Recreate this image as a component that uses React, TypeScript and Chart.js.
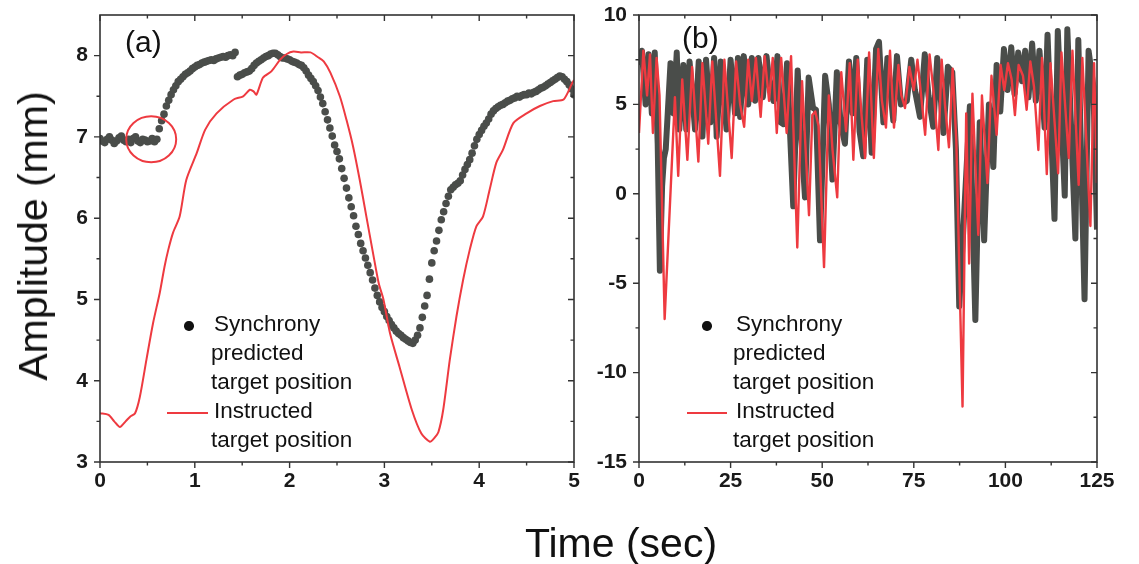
import React, { useEffect, useRef } from "react";
import { Chart, registerables } from "chart.js";

Chart.register(...registerables);

const FONT = '"Liberation Sans", Arial, Helvetica, sans-serif';
const DOT = "#4a4d4a";
const RED = "#ee3a40";
const AXIS = "#333333";

// ---------- Panel (a) ----------
const syncAStep = 0.025; // seconds between predicted samples
const syncAValues = [
  6.98, 6.95, 6.93, 6.97, 7.0, 6.96, 6.92, 6.95, 6.99, 7.01,
  6.96, 6.94, 6.97, 6.93, 6.98, 7.0, 6.95, 6.93, 6.97, 6.96,
  6.94, 6.95, 6.98, 6.94, 6.97,
  7.1, 7.2, 7.28, 7.38, 7.45, 7.52, 7.58, 7.63, 7.68, 7.71,
  7.74, 7.77, 7.79, 7.81, 7.84, 7.86, 7.88, 7.89, 7.91, 7.92,
  7.93, 7.94, 7.95, 7.94, 7.96, 7.97, 7.98, 7.99, 7.98, 8.0,
  8.01, 8.0, 8.04,
  7.74, 7.76, 7.77, 7.79, 7.8, 7.81, 7.84, 7.88, 7.91, 7.93,
  7.95, 7.97, 7.99, 8.0, 8.02, 8.03, 8.03, 8.01, 7.99, 7.97,
  7.97, 7.96, 7.95, 7.93, 7.92, 7.91, 7.89, 7.88, 7.85, 7.81,
  7.76, 7.72, 7.68, 7.63, 7.57, 7.49, 7.41, 7.31, 7.21, 7.11,
  7.01, 6.9, 6.82, 6.73, 6.61, 6.49, 6.37, 6.25, 6.14, 6.03,
  5.9, 5.8, 5.69, 5.6, 5.51, 5.42, 5.33, 5.24, 5.14, 5.05,
  4.97, 4.9, 4.85, 4.79, 4.74, 4.69, 4.65, 4.61, 4.58, 4.56,
  4.53, 4.51, 4.49, 4.47, 4.46, 4.5, 4.56, 4.65, 4.78, 4.92,
  5.05, 5.25, 5.45, 5.6, 5.72, 5.85, 5.98, 6.08, 6.18, 6.27,
  6.35, 6.38, 6.41, 6.43, 6.46, 6.53, 6.6, 6.66, 6.72, 6.8,
  6.89, 6.97, 7.03, 7.08, 7.13, 7.17, 7.22, 7.28, 7.32, 7.35,
  7.37, 7.39, 7.4, 7.42, 7.44, 7.45, 7.47, 7.48, 7.5, 7.49,
  7.51, 7.52, 7.52, 7.54, 7.53, 7.55, 7.56, 7.58, 7.6, 7.61,
  7.63, 7.65, 7.67, 7.69, 7.71, 7.73, 7.75, 7.74, 7.71, 7.68,
  7.64, 7.59, 7.52,
];

const instructedA: [number, number][] = [
  [0, 3.6], [0.09, 3.58], [0.15, 3.5], [0.21, 3.43], [0.27, 3.5], [0.32, 3.56],
  [0.37, 3.6], [0.42, 3.8], [0.49, 4.26], [0.56, 4.71], [0.63, 5.08], [0.68, 5.4],
  [0.72, 5.61], [0.77, 5.82], [0.84, 6.02], [0.91, 6.47], [1.02, 6.8], [1.11, 7.09],
  [1.23, 7.29], [1.41, 7.46], [1.51, 7.5], [1.58, 7.58], [1.62, 7.56], [1.65, 7.52],
  [1.72, 7.73], [1.81, 7.81], [1.9, 7.95], [1.97, 8.02], [2.04, 8.05], [2.12, 8.04],
  [2.22, 8.04], [2.3, 7.98], [2.36, 7.93], [2.43, 7.79], [2.53, 7.5], [2.6, 7.21],
  [2.67, 6.88], [2.74, 6.47], [2.81, 6.02], [2.88, 5.57], [2.94, 5.2], [2.99, 5.0],
  [3.06, 4.58], [3.16, 4.17], [3.29, 3.64], [3.39, 3.35], [3.48, 3.25], [3.53, 3.3],
  [3.57, 3.37], [3.62, 3.64], [3.69, 4.26], [3.76, 4.79], [3.83, 5.24], [3.9, 5.61],
  [3.97, 5.9], [4.04, 6.02], [4.11, 6.35], [4.18, 6.68], [4.25, 6.84], [4.36, 7.17],
  [4.5, 7.29], [4.64, 7.38], [4.78, 7.44], [4.89, 7.46], [4.98, 7.66], [5.0, 7.7],
];

const circleA = { x: 0.54, y: 6.97 }; // highlighted region in panel (a)

const ticksAX = [0, 1, 2, 3, 4, 5];
const minorAX = [0.5, 1.5, 2.5, 3.5, 4.5];
const ticksAY = [3, 4, 5, 6, 7, 8];
const minorAY = [3.5, 4.5, 5.5, 6.5, 7.5];

// ---------- Panel (b) ----------
const instructedB: [number, number][] = [
  [0, 3.4], [1.2, 8.0], [2.2, 5.5], [3.0, 7.8], [3.8, 3.4], [4.8, 7.6], [5.6, 5.5],
  [7.0, -7.0], [9.8, 5.4], [10.7, 1.0], [11.8, 6.4], [13.2, 1.9], [14.5, 7.1],
  [16.2, 1.8], [17.3, 7.3], [18.9, 2.8], [20.0, 7.4], [22.1, 1.0], [23.3, 7.5],
  [25.3, 2.0], [26.5, 7.4], [27.6, 5.0], [28.7, 3.75], [29.8, 7.5], [30.8, 5.2],
  [31.9, 7.6], [33.2, 4.3], [34.3, 7.7], [35.5, 5.2], [36.5, 7.6], [37.6, 3.4],
  [38.8, 7.6], [40.3, 3.4], [41.5, 7.7], [43.2, -3.0], [44.5, 6.3], [46.4, -1.2],
  [47.3, 4.4], [48.1, 4.6], [49.0, 3.8], [50.5, -4.1], [51.8, 5.5], [52.8, 2.5],
  [54.1, -0.2], [55.2, 6.8], [56.5, 3.5], [57.5, 7.3], [58.5, 1.9], [59.7, 7.5],
  [60.7, 4.5], [61.7, 2.0], [62.8, 7.9], [64.1, 2.0], [65.3, 8.1], [66.3, 5.2],
  [67.4, 3.7], [68.5, 8.0], [69.6, 3.7], [70.8, 7.2], [71.6, 5.5], [72.6, 4.8],
  [73.8, 7.1], [75.0, 5.8], [76.0, 7.5], [77.0, 5.5], [78.1, 3.3], [79.3, 7.8],
  [80.5, 5.5], [81.7, 2.45], [82.6, 7.5], [83.5, 5.0], [84.6, 2.6], [85.6, 7.0],
  [86.6, 3.0], [88.3, -11.9], [89.3, 4.5], [90.1, -3.9], [91.0, 5.6], [92.6, -2.3],
  [93.6, 5.5], [95.1, 0.6], [96.2, 6.6], [97.6, 3.3], [98.7, 7.2], [99.7, 5.8],
  [100.7, 7.3], [101.7, 6.4], [102.6, 4.4], [103.6, 7.2], [104.8, 6.6], [105.8, 4.7],
  [106.8, 7.4], [107.8, 6.0], [109.0, 2.45], [110.0, 7.6], [111.3, 1.1], [112.3, 7.3],
  [114.4, 1.15], [115.3, 7.9], [117.3, 2.0], [118.3, 8.0], [120.0, 0.5], [121.0, 7.6],
  [123.2, -1.8], [124.2, 7.3], [125, 0.6],
];

const syncB: [number, number][] = [
  [0, 7.2], [0.8, 8.0], [1.8, 5.0], [2.6, 7.8], [3.5, 4.5], [4.3, 7.9], [5.1, 2.8],
  [5.7, -4.3], [6.3, 0.4], [6.8, 2.0], [7.3, 2.5], [8.6, 7.3], [9.4, 4.5], [10.3, 7.9],
  [11.0, 3.6], [12.1, 7.2], [12.9, 3.6], [13.8, 7.4], [15.3, 3.6], [16.3, 7.4],
  [17.3, 3.2], [18.3, 7.5], [19.5, 4.0], [20.5, 7.6], [21.2, 3.2], [22.3, 7.4],
  [23.9, 3.6], [25.0, 7.5], [26.2, 4.5], [27.0, 7.6], [27.6, 4.3], [28.6, 7.7],
  [29.8, 5.0], [30.8, 7.6], [31.7, 5.2], [32.6, 7.6], [33.8, 5.4], [34.8, 7.7],
  [35.8, 5.8], [36.7, 5.2], [37.8, 7.7], [38.6, 4.0], [39.4, 3.9], [40.4, 7.3],
  [42.1, -0.7], [43.3, 6.9], [44.2, 3.5], [45.3, -0.2], [46.3, 6.5], [47.5, 4.8],
  [48.3, 4.7], [49.4, -2.6], [50.8, 6.6], [51.8, 5.0], [52.8, 0.8], [54.0, 6.8],
  [55.0, 4.0], [56.2, 2.8], [57.3, 7.4], [58.3, 4.5], [59.3, 7.6], [60.2, 3.5],
  [61.2, 2.1], [62.3, 7.5], [63.5, 2.3], [64.7, 8.1], [65.5, 8.5], [66.7, 4.0],
  [67.8, 7.6], [69.4, 4.1], [70.4, 7.7], [71.5, 5.0], [73.1, 5.2], [74.3, 7.5],
  [75.3, 5.8], [76.7, 4.3], [78.0, 7.8], [79.0, 5.5], [80.3, 3.75], [81.4, 7.6],
  [82.3, 5.5], [83.1, 3.4], [84.3, 7.1], [85.5, 6.8], [86.5, 2.5], [87.4, -6.3],
  [90.3, 4.9], [91.8, -7.06], [93.0, 4.0], [94.2, -2.6], [95.5, 5.0], [96.7, 1.5],
  [97.6, 7.2], [98.6, 4.6], [99.6, 8.1], [100.6, 5.8], [101.6, 8.2], [102.5, 5.6],
  [103.5, 7.9], [104.5, 6.3], [105.4, 8.0], [106.3, 5.4], [107.3, 8.4], [108.3, 5.2],
  [109.3, 8.0], [110.7, 3.7], [111.5, 8.9], [113.4, -1.4], [114.3, 9.1], [116.2, -0.1],
  [116.9, 9.2], [119.1, -2.5], [119.9, 8.6], [121.6, -5.9], [122.7, 8.0], [124.0, 6.0],
  [125, -2.0],
];

const ticksBX = [0, 25, 50, 75, 100, 125];
const minorBX = [12.5, 37.5, 62.5, 87.5, 112.5];
const ticksBY = [-15, -10, -5, 0, 5, 10];
const minorBY = [-12.5, -7.5, -2.5, 2.5, 7.5];

const legendSync = ["Synchrony", "predicted", "target position"];
const legendInstr = ["Instructed", "target position"];

// ---------- frame / ticks plugin ----------
const framePlugin = {
  id: "frame",
  afterDatasetsDraw(chart: any, _args: any, opts: any) {
    const { ctx, chartArea, scales } = chart;
    const { left, right, top, bottom } = chartArea;
    const x = scales.x;
    const y = scales.y;
    ctx.save();
    if (opts.circle) {
      const cx = x.getPixelForValue(opts.circle.x);
      const cy = y.getPixelForValue(opts.circle.y);
      ctx.strokeStyle = RED;
      ctx.lineWidth = 2;
      ctx.beginPath();
      ctx.ellipse(cx, cy, 25, 23, 0, 0, Math.PI * 2);
      ctx.stroke();
    }
    ctx.strokeStyle = AXIS;
    ctx.lineWidth = 1.6;
    ctx.strokeRect(left, top, right - left, bottom - top);
    ctx.lineWidth = 1.4;
    const drawX = (vals: number[], len: number) => {
      vals.forEach((v) => {
        const px = x.getPixelForValue(v);
        ctx.beginPath();
        ctx.moveTo(px, bottom);
        ctx.lineTo(px, bottom + len);
        ctx.moveTo(px, top);
        ctx.lineTo(px, top + len);
        ctx.stroke();
      });
    };
    const drawY = (vals: number[], len: number) => {
      vals.forEach((v) => {
        const py = y.getPixelForValue(v);
        ctx.beginPath();
        ctx.moveTo(left, py);
        ctx.lineTo(left - len, py);
        ctx.moveTo(right, py);
        ctx.lineTo(right - len, py);
        ctx.stroke();
      });
    };
    drawX(opts.xMajor, 6);
    drawX(opts.xMinor, 3.5);
    drawY(opts.yMajor, 6);
    drawY(opts.yMinor, 3.5);
    ctx.restore();
  },
};

function makeScale(min: number, max: number, major: number[], size: number, isX: boolean) {
  return {
    type: "linear",
    min,
    max,
    afterBuildTicks: (s: any) => {
      s.ticks = major.map((value) => ({ value }));
    },
    afterFit: (s: any) => {
      if (isX) {
        s.height = size;
        s.paddingLeft = 0;
        s.paddingRight = 0;
      } else {
        s.width = size;
        s.paddingTop = 0;
        s.paddingBottom = 0;
      }
    },
    grid: { display: false, drawTicks: false },
    border: { display: false },
    ticks: {
      font: { family: FONT, size: 21, weight: "bold" },
      color: "#1a1a1a",
      padding: isX ? 7 : 12,
      maxRotation: 0,
      autoSkip: false,
    },
  };
}

export default function App() {
  const refA = useRef<HTMLCanvasElement | null>(null);
  const refB = useRef<HTMLCanvasElement | null>(null);

  useEffect(() => {
    const chartA = new Chart(refA.current as HTMLCanvasElement, {
      type: "scatter",
      data: {
        datasets: [
          {
            label: "Instructed target position",
            data: instructedA.map(([x, y]) => ({ x, y })),
            showLine: true,
            borderColor: RED,
            borderWidth: 2,
            pointRadius: 0,
            tension: 0.25,
          },
          {
            label: "Synchrony predicted target position",
            data: syncAValues.map((y, i) => ({ x: i * syncAStep, y })),
            showLine: false,
            backgroundColor: DOT,
            borderWidth: 0,
            pointRadius: 3.8,
          },
        ],
      } as any,
      options: {
        animation: false,
        responsive: false,
        maintainAspectRatio: false,
        layout: { padding: { top: 15, right: 11, left: 0, bottom: 0 } },
        plugins: {
          legend: { display: false },
          tooltip: { enabled: false },
          frame: { xMajor: ticksAX, xMinor: minorAX, yMajor: ticksAY, yMinor: minorAY, circle: circleA },
        },
        scales: {
          x: makeScale(0, 5, ticksAX, 102, true),
          y: makeScale(3, 8.5, ticksAY, 100, false),
        },
      } as any,
      plugins: [framePlugin],
    });

    const chartB = new Chart(refB.current as HTMLCanvasElement, {
      type: "scatter",
      data: {
        datasets: [
          {
            label: "Instructed target position",
            data: instructedB.map(([x, y]) => ({ x, y })),
            showLine: true,
            borderColor: RED,
            borderWidth: 2.4,
            borderJoinStyle: "round",
            pointRadius: 0,
            tension: 0,
          },
          {
            label: "Synchrony predicted target position",
            data: syncB.map(([x, y]) => ({ x, y })),
            showLine: true,
            borderColor: DOT,
            borderWidth: 6,
            borderJoinStyle: "round",
            pointRadius: 0,
            tension: 0,
          },
        ],
      } as any,
      options: {
        animation: false,
        responsive: false,
        maintainAspectRatio: false,
        layout: { padding: { top: 15, right: 42, left: 0, bottom: 0 } },
        plugins: {
          legend: { display: false },
          tooltip: { enabled: false },
          frame: { xMajor: ticksBX, xMinor: minorBX, yMajor: ticksBY, yMinor: minorBY },
        },
        scales: {
          x: makeScale(0, 125, ticksBX, 102, true),
          y: makeScale(-15, 10, ticksBY, 54, false),
        },
      } as any,
      plugins: [framePlugin],
    });

    return () => {
      chartA.destroy();
      chartB.destroy();
    };
  }, []);

  const txt: React.CSSProperties = {
    position: "absolute",
    fontFamily: FONT,
    fontSize: 22.5,
    lineHeight: "26px",
    color: "#111",
    whiteSpace: "nowrap",
  };

  const legend = (dotX: number, lineX1: number, lineX2: number, textX: number, textX2: number) => (
    <>
      <div
        style={{
          position: "absolute",
          left: dotX - 4.7,
          top: 326 - 4.7,
          width: 9.4,
          height: 9.4,
          borderRadius: "50%",
          background: "#111",
        }}
      />
      {legendSync.map((t, i) => (
        <div key={"s" + i} style={{ ...txt, left: i === 0 ? textX : textX2, top: [324, 353, 382][i] - 13 }}>
          {t}
        </div>
      ))}
      <div
        style={{
          position: "absolute",
          left: lineX1,
          top: 412,
          width: lineX2 - lineX1,
          height: 2,
          background: RED,
        }}
      />
      {legendInstr.map((t, i) => (
        <div key={"r" + i} style={{ ...txt, left: i === 0 ? textX : textX2, top: [411, 440][i] - 13 }}>
          {t}
        </div>
      ))}
    </>
  );

  return (
    <div
      style={{
        position: "absolute",
        left: 0,
        top: 0,
        width: 1139,
        height: 564,
        background: "#fff",
        overflow: "hidden",
      }}
    >
      <canvas ref={refA} width={585} height={564} style={{ position: "absolute", left: 0, top: 0 }} />
      <canvas ref={refB} width={554} height={564} style={{ position: "absolute", left: 585, top: 0 }} />
      <div style={{ ...txt, fontSize: 30, lineHeight: "34px", left: 125, top: 42 - 17 }}>(a)</div>
      <div style={{ ...txt, fontSize: 30, lineHeight: "34px", left: 682, top: 38 - 17 }}>(b)</div>
      {legend(189, 167, 208, 214, 211)}
      {legend(707, 687, 727, 736, 733)}
      <div
        style={{
          ...txt,
          fontSize: 41,
          lineHeight: "46px",
          left: 33,
          top: 236,
          transform: "translate(-50%, -50%) rotate(-90deg)",
        }}
      >
        Amplitude (mm)
      </div>
      <div
        style={{
          ...txt,
          fontSize: 41,
          lineHeight: "46px",
          left: 621,
          top: 543,
          transform: "translate(-50%, -50%)",
        }}
      >
        Time (sec)
      </div>
    </div>
  );
}
